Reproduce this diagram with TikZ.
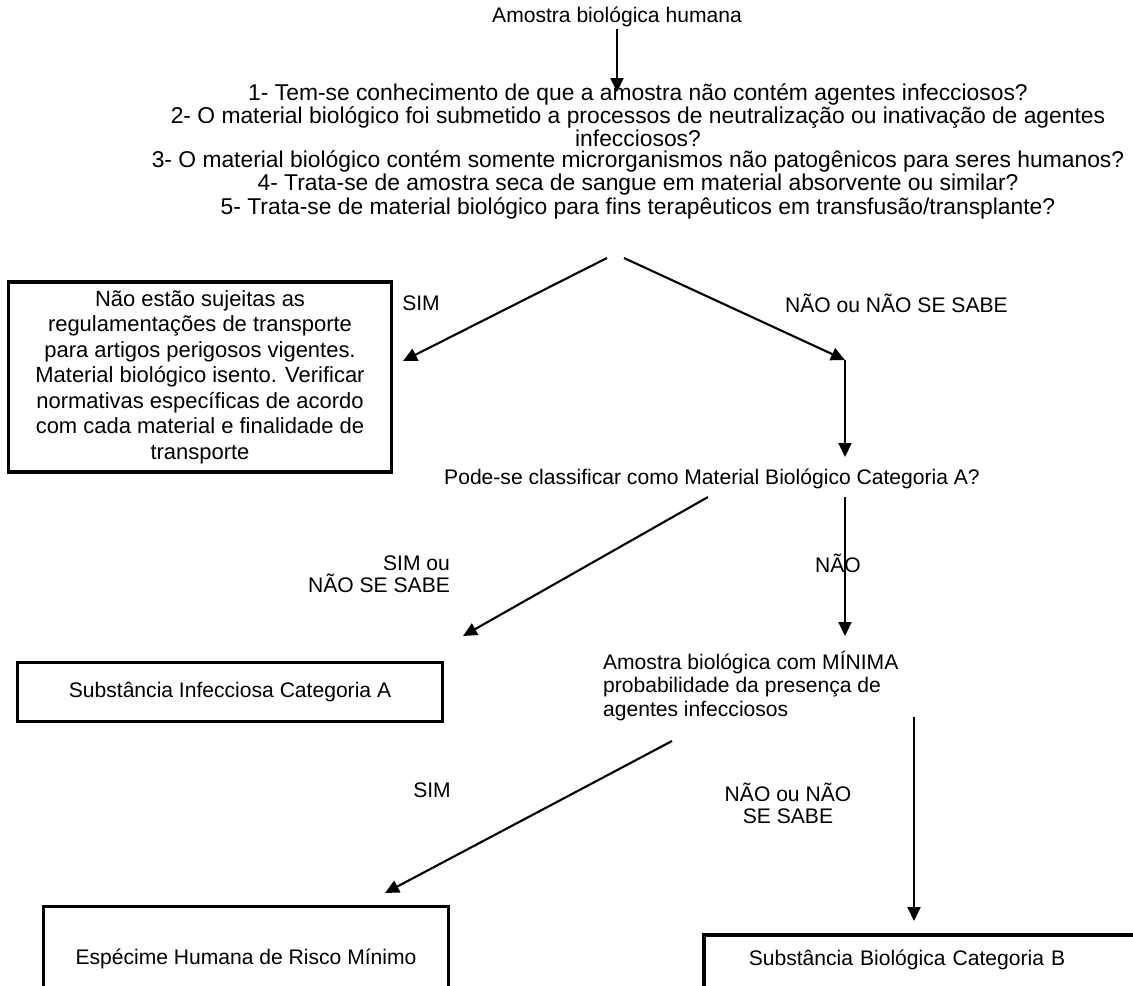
\documentclass[tikz,border=0pt]{standalone}
\usepackage{fontspec}
\setmainfont{Liberation Sans}
\usepackage{tikz}
\usetikzlibrary{arrows.meta}

\begin{document}
\begin{tikzpicture}[x=0.02cm, y=-0.02cm]
	\clip (0,0) rectangle (1133,985);
	\fill[white] (0,0) rectangle (1133,985);
	% plain text
	\begin{scope}[every node/.style = {font = \fontsize{12}{12.5}\selectfont, inner sep = 1pt}]
		\node (sample) at (617,17) {Amostra biológica humana};
		\node[align = center, font = \fontsize{13}{12}\selectfont] (questions) at (638,151) {1- Tem-se conhecimento de que a amostra não contém agentes infecciosos?\\
			2- O material biológico foi submetido a processos de neutralização ou inativação de agentes\\
			infecciosos?\\
			3- O material biológico contém somente microrganismos não patogênicos para seres humanos?\\
			4- Trata-se de amostra seca de sangue em material absorvente ou similar?\\
			5- Trata-se de material biológico para fins terapêuticos em transfusão/transplante?};
		\node (catAq) at (712,479) {Pode-se classificar como Material Biológico Categoria A?};
		\node[align = left, anchor = west, font = \fontsize{12}{13.3}\selectfont] (minProb) at (601,686) {Amostra biológica com MÍNIMA\\
			probabilidade da presença de\\
			agentes infecciosos};
		% branch labels
		\node (simA) at (421,303) {SIM};
		\node[anchor = west] (naoA) at (783,303) {NÃO ou NÃO SE SABE};
		\node[align = right, anchor = east] (simB) at (452,574) {SIM ou\\NÃO SE SABE};
		\node (naoB) at (838,563) {NÃO};
		\node (simC) at (432,790) {SIM};
		\node[align = center] (naoC) at (788,803) {NÃO ou NÃO\\SE SABE};
	\end{scope}
	% boxes
	\begin{scope}[every node/.style = {rectangle, draw, line width = 2pt,
			font = \fontsize{12}{12.5}\selectfont}]
		\node[align = center, minimum width = 7.66cm, minimum height = 3.8cm,
			font = \fontsize{12.5}{14.5}\selectfont] (exempt) at (200,377) {Não estão sujeitas as\\
			regulamentações de transporte\\
			para artigos perigosos vigentes.\\
			Material biológico isento. Verificar\\
			normativas específicas de acordo\\
			com cada material e finalidade de\\
			transporte};
		\node[minimum width = 8.5cm, minimum height = 1.18cm] (infA) at (230,692) {Substância Infecciosa Categoria A};
		\node[anchor = base, minimum width = 8.1cm, text height = 0.95cm, text depth = 1cm,
			inner ysep = 0.2cm] (riskMin) at (246,964) {Espécime Humana de Risco Mínimo};
		\node[anchor = base west, align = left, text width = 9cm, inner xsep = 0.9cm,
			text height = 0.4cm, text depth = 1cm, inner ysep = 0.2cm] (catB) at (702,965) {Substância Biológica Categoria B};
	\end{scope}
	% free ends of the connectors
	\coordinate (qTip) at (617,92);
	\coordinate (splitL) at (607,258);
	\coordinate (splitR) at (624,258);
	\coordinate (exemptTip) at (403,361);
	\coordinate (turn) at (845,360);
	\coordinate (catTip) at (845,457);
	\coordinate (catL) at (708,497);
	\coordinate (catR) at (845,497);
	\coordinate (infTip) at (463,636);
	\coordinate (minTip) at (845,636);
	\coordinate (minL) at (672,741);
	\coordinate (minR) at (914,717);
	\coordinate (riskTip) at (385,893);
	\coordinate (catBTip) at (914,921);
	\begin{scope}[>={Triangle[length=0.28cm, width=0.26cm, black]},
			every edge/.style={draw=black, line width = 1.2pt}]
		\path [->] (sample) edge (qTip);
		\path [->] (splitL) edge (exemptTip);
		\path [->] (splitR) edge (turn);
		\path [->] (turn) edge (catTip);
		\path [->] (catL) edge (infTip);
		\path [->] (catR) edge (minTip);
		\path [->] (minL) edge (riskTip);
		\path [->] (minR) edge (catBTip);
	\end{scope}
\end{tikzpicture}
\end{document}
